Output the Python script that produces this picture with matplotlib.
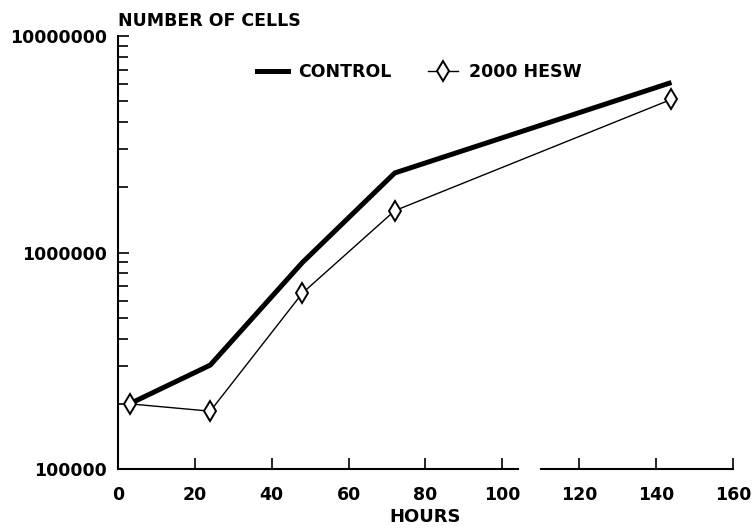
import matplotlib
matplotlib.use("Agg")
import matplotlib.pyplot as plt
from matplotlib.ticker import LogLocator, NullFormatter, FixedLocator, FixedFormatter
from matplotlib.lines import Line2D

hours = [3, 24, 48, 72, 144]
control = [200000, 302000, 900000, 2330000, 6100000]
hesw = [200000, 185000, 650000, 1560000, 5100000]
x_ticks = [0, 20, 40, 60, 80, 100, 120, 140, 160]
y_ticks = [100000, 1000000, 10000000]
y_tick_labels = ["100000", "1000000", "10000000"]

plt.rcParams['font.family'] = ['DejaVu Sans']
plt.rcParams['font.weight'] = 'bold'

fig = plt.figure(figsize=(7.53, 5.28), dpi=100)
ax = fig.add_axes([0.1567, 0.1117, 0.8167, 0.8201])

ax.plot(hours, control, color='black', lw=3.6, solid_capstyle='butt', label='CONTROL')
ax.plot(hours, hesw, color='black', lw=1.0, marker='d', markersize=10.5,
        markerfacecolor='white', markeredgecolor='black', markeredgewidth=1.4,
        label='2000 HESW')

ax.set_yscale('log')
ax.set_xlim(0, 160)
ax.set_ylim(1e5, 1e7)

ax.yaxis.set_major_locator(FixedLocator(y_ticks))
ax.yaxis.set_major_formatter(FixedFormatter(y_tick_labels))
ax.yaxis.set_minor_locator(LogLocator(base=10, subs=range(2, 10)))
ax.yaxis.set_minor_formatter(NullFormatter())
ax.set_xticks(x_ticks)
ax.set_xticklabels([str(v) for v in x_ticks])

ax.tick_params(axis='both', which='major', direction='in', length=8, width=1.2,
               labelsize=12.5)
ax.tick_params(axis='x', pad=12)
ax.tick_params(axis='y', pad=8)
ax.tick_params(axis='y', which='minor', direction='in', length=7, width=1.2)
for lab in ax.get_xticklabels() + ax.get_yticklabels():
    lab.set_fontweight('bold')

for s in ['top', 'right', 'bottom']:
    ax.spines[s].set_visible(False)
ax.spines['left'].set_linewidth(1.5)

# broken bottom axis
tr = ax.get_xaxis_transform()
ax.plot([0, 104], [0, 0], color='black', lw=1.5, transform=tr, clip_on=False)
ax.plot([110, 160], [0, 0], color='black', lw=1.5, transform=tr, clip_on=False)

ax.set_xlabel('HOURS', fontsize=13, fontweight='bold', labelpad=3)
ax.text(0.0, 1.015, 'NUMBER OF CELLS', transform=ax.transAxes, fontsize=12.5,
        fontweight='bold', ha='left', va='bottom')

handles = [Line2D([], [], color='black', lw=3.6),
           Line2D([], [], color='black', lw=1.0, marker='d', markersize=10.5,
                  markerfacecolor='white', markeredgecolor='black', markeredgewidth=1.4)]
leg = ax.legend(handles, ['CONTROL', '2000 HESW'], ncol=2, frameon=False,
                loc='center', bbox_to_anchor=(0.49, 0.917), handlelength=1.75,
                handletextpad=0.6, columnspacing=2.1,
                prop={'weight': 'bold', 'size': 12.5})

fig.savefig('out.png', dpi=100)
